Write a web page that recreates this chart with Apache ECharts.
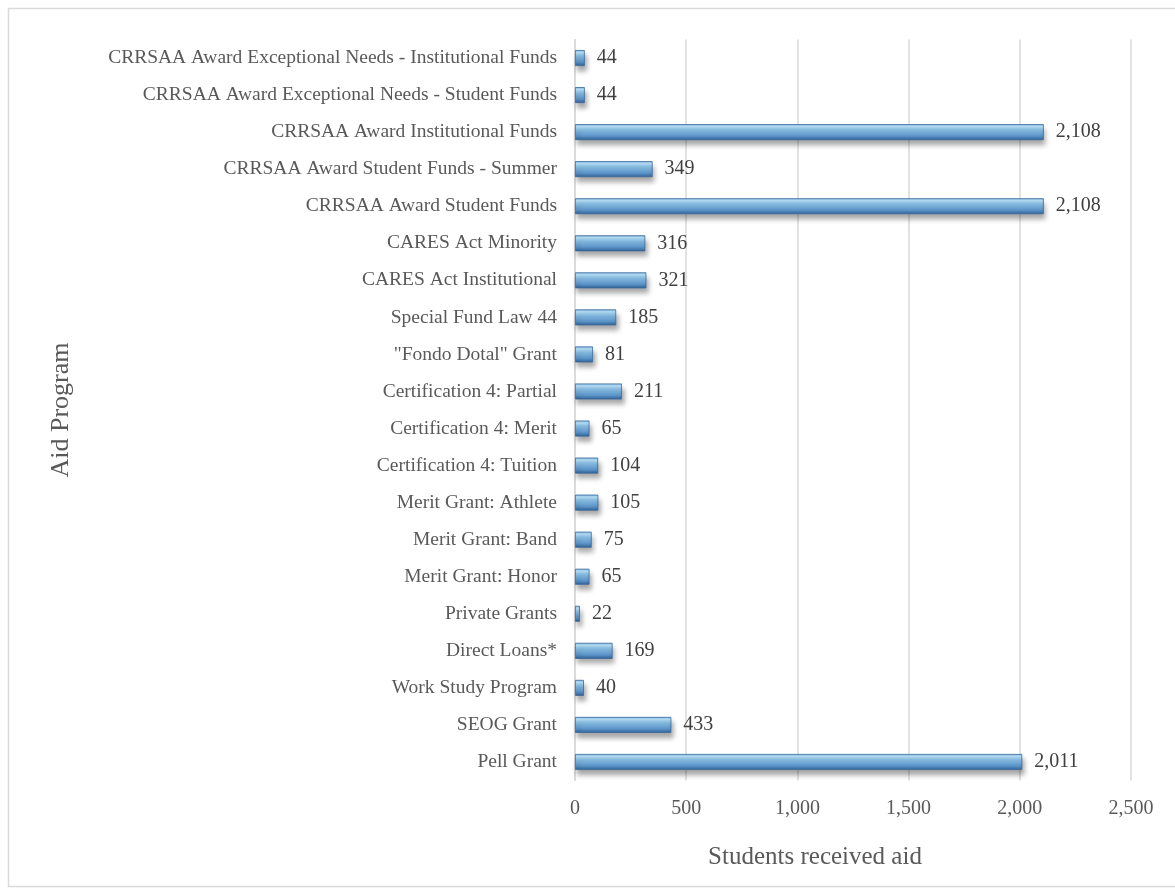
<!DOCTYPE html>
<html><head><meta charset="utf-8">
<script src="https://cdn.jsdelivr.net/npm/echarts@6/dist/echarts.min.js"></script>
<style>html,body{margin:0;padding:0;background:#fff}#c{width:1175px;height:888px}</style>
</head><body><div id="c"></div>
<script>
// bottom to top
const categories = [
  "Pell Grant","SEOG Grant","Work Study Program","Direct Loans*","Private Grants",
  "Merit Grant: Honor","Merit Grant: Band","Merit Grant: Athlete","Certification 4: Tuition",
  "Certification 4: Merit","Certification 4: Partial","\"Fondo Dotal\" Grant","Special Fund Law 44",
  "CARES Act Institutional","CARES Act Minority","CRRSAA Award Student Funds",
  "CRRSAA Award Student Funds - Summer","CRRSAA Award Institutional Funds",
  "CRRSAA Award Exceptional Needs - Student Funds","CRRSAA Award Exceptional Needs - Institutional Funds"
];
const values = [2011,433,40,169,22,65,75,105,104,65,211,81,185,321,316,2108,349,2108,44,44];
const xTicks = [0,500,1000,1500,2000,2500];

const FONT = '"Liberation Serif", "DejaVu Serif", serif';
const chart = echarts.init(document.getElementById('c'));
chart.setOption({
  animation:false,
  backgroundColor:'#fff',
  graphic:[
    {type:'rect',shape:{x:8.5,y:8.5,width:1170,height:878},style:{fill:'none',stroke:'#d9d9d9',lineWidth:1.5},silent:true},
    {type:'text',x:815,y:857,style:{text:'Students received aid',font:'25px '+FONT,fill:'#595959',align:'center',verticalAlign:'middle'}},
    {type:'text',x:61,y:410,rotation:Math.PI/2,style:{text:'Aid Program',font:'26px '+FONT,fill:'#595959',align:'center',verticalAlign:'middle'}}
  ],
  grid:{left:575,right:44,top:39.5,bottom:107.5,containLabel:false},
  xAxis:{type:'value',min:xTicks[0],max:xTicks[xTicks.length-1],interval:500,
    axisLine:{show:false},axisTick:{show:false},
    splitLine:{lineStyle:{color:'#d9d9d9',width:1.5}},
    axisLabel:{margin:18,color:'#595959',fontFamily:FONT,fontSize:20,
      formatter:v=>v.toLocaleString('en-US')}},
  yAxis:{type:'category',data:categories,
    axisLine:{show:true,lineStyle:{color:'#d9d9d9',width:1.5}},axisTick:{show:false},
    axisLabel:{margin:18,color:'#595959',fontFamily:FONT,fontSize:19.5}},
  series:[{type:'bar',data:values,barWidth:16,
    itemStyle:{
      color:new echarts.graphic.LinearGradient(0,0,0,1,[
        {offset:0,color:'#7fb6e0'},{offset:0.15,color:'#b5def6'},{offset:0.35,color:'#8cc2e8'},
        {offset:0.75,color:'#5a93c8'},{offset:1,color:'#2f5f92'}]),
      borderColor:'#3a6a9c',borderWidth:0.8,
      shadowColor:'rgba(0,0,0,0.35)',shadowBlur:5,shadowOffsetX:2,shadowOffsetY:5},
    label:{show:true,position:'right',distance:12,color:'#404040',fontFamily:FONT,fontSize:20,
      formatter:p=>p.value.toLocaleString('en-US')}
  }]
});
</script></body></html>
